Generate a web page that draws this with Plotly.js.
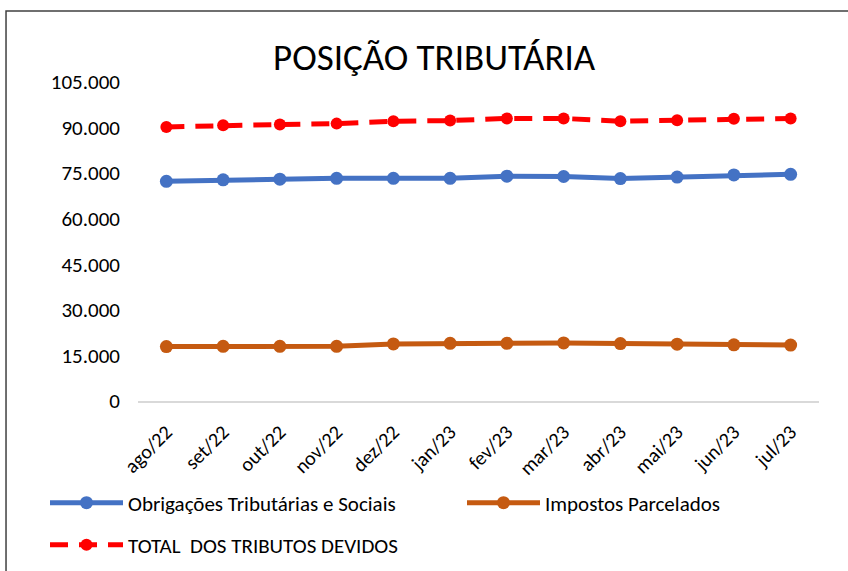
<!DOCTYPE html>
<html>
<head>
<meta charset="utf-8">
<script src="https://cdn.plot.ly/plotly-3.0.1.min.js"></script>
<style>html,body{margin:0;padding:0;background:#fff;}#chart{width:848px;height:571px;}</style>
</head>
<body>
<div id="chart"></div>
<script>
const months = ["ago/22","set/22","out/22","nov/22","dez/22","jan/23","fev/23","mar/23","abr/23","mai/23","jun/23","jul/23"];
const obrigacoes = [72300,72800,73000,73300,73300,73300,74000,73900,73200,73700,74400,74600];
const parcelados = [17900,18000,18000,18000,18800,19000,19000,19100,18900,18700,18500,18400];
const total = [90200,90800,91000,91300,92100,92300,93000,93000,92100,92400,92900,93000];
const yTicks = [0,15000,30000,45000,60000,75000,90000,105000];

const FONT = "Carlito, 'Liberation Sans Narrow', 'Open Sans', sans-serif";

const traces = [
  {x: months, y: obrigacoes, name: "Obrigações Tributárias e Sociais", type: "scatter", mode: "lines+markers",
   line: {color: "#4472C4", width: 5}, marker: {color: "#4472C4", size: 13}, legend: "legend"},
  {x: months, y: parcelados, name: "Impostos Parcelados", type: "scatter", mode: "lines+markers",
   line: {color: "#C55A11", width: 5}, marker: {color: "#C55A11", size: 13}, legend: "legend2"},
  {x: months, y: total, name: "TOTAL  DOS TRIBUTOS DEVIDOS", type: "scatter", mode: "lines+markers",
   line: {color: "#FF0000", width: 5, dash: "18px,11px"}, marker: {color: "#FF0000", size: 12}, legend: "legend3"}
];

const legFont = {family: FONT, size: 21, color: "#000"};
function leg(xpx, ypx) {
  return {orientation: "h", xref: "container", yref: "container", x: xpx / 848, xanchor: "left",
          y: 1 - ypx / 571, yanchor: "middle", itemwidth: 73, font: legFont, bgcolor: "rgba(0,0,0,0)"};
}

const layout = {
  width: 848, height: 571,
  margin: {l: 138, r: 29, t: 82, b: 170},
  paper_bgcolor: "#fff", plot_bgcolor: "#fff",
  separators: ",.",
  font: {family: FONT, color: "#000", size: 21},
  title: {text: "POSIÇÃO TRIBUTÁRIA", x: 0.512, xanchor: "center", y: 0.9, yanchor: "middle",
          font: {family: FONT, size: 37, color: "#000"}},
  xaxis: {type: "category", range: [-0.5, 11.5], showgrid: false, zeroline: false, showline: true,
          linecolor: "#D9D9D9", linewidth: 1.5, ticks: "", tickangle: -45, ticklabelstandoff: 10,
          automargin: false, tickfont: {family: FONT, size: 20, color: "#000"}, fixedrange: true},
  yaxis: {range: [0, 105000], tickvals: yTicks, tickformat: ",d", showgrid: false, zeroline: false, showline: false,
          ticks: "", ticklabelstandoff: 17, automargin: false, tickfont: {family: FONT, size: 21, color: "#000"}, fixedrange: true},
  showlegend: true,
  legend: leg(45, 503),
  legend2: leg(462, 503),
  legend3: leg(45, 545),
  shapes: [
    {type: "rect", xref: "paper", yref: "paper", x0: -0.1938, x1: 1.2, y0: -0.7, y1: 1.2226,
     line: {color: "#404040", width: 1.5}, fillcolor: "rgba(0,0,0,0)", layer: "below"}
  ]
};

Plotly.newPlot("chart", traces, layout, {displayModeBar: false, staticPlot: true});
</script>
</body>
</html>
